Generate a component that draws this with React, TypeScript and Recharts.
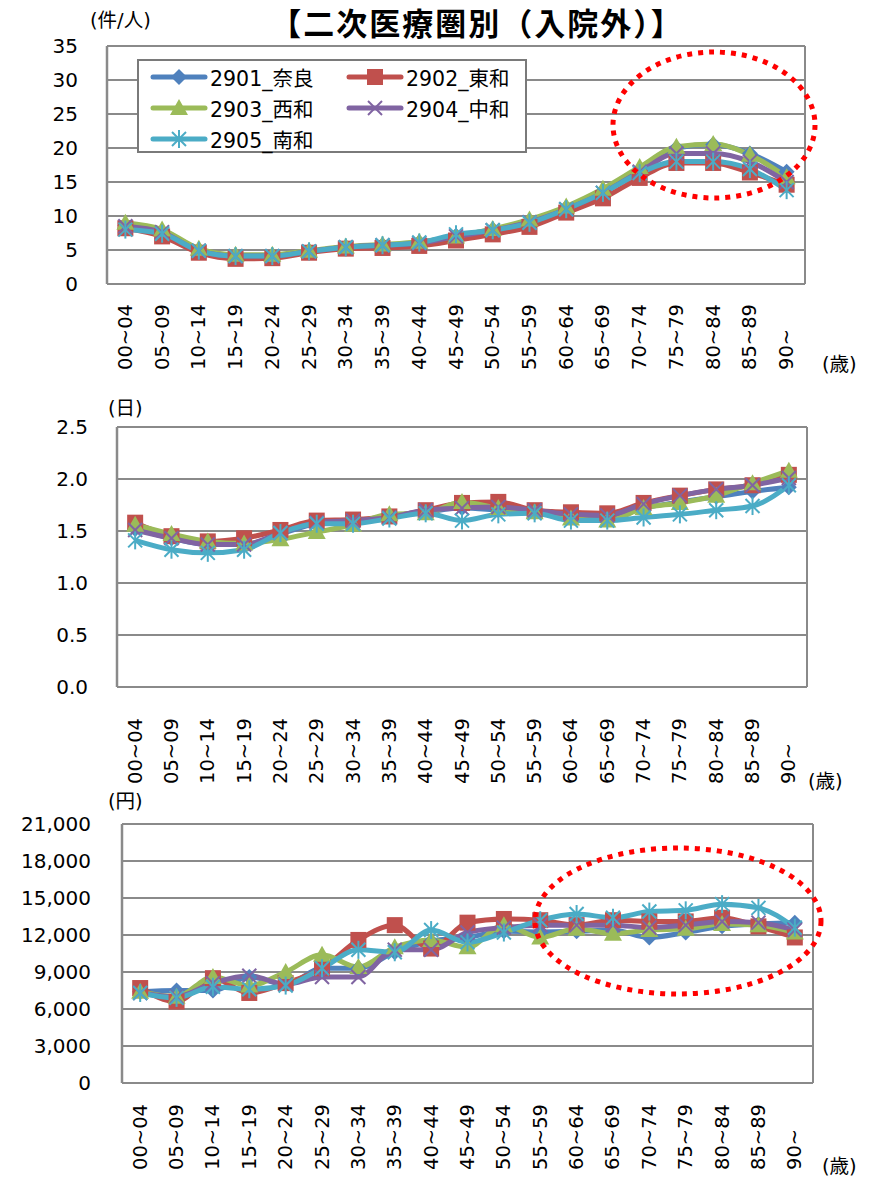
import { LineChart, Line, XAxis, YAxis, CartesianGrid } from 'recharts';

const FONT = '"DejaVu Sans", "Noto Sans CJK JP", sans-serif';

const ages = ['00~04', '05~09', '10~14', '15~19', '20~24', '25~29', '30~34', '35~39', '40~44', '45~49',
  '50~54', '55~59', '60~64', '65~69', '70~74', '75~79', '80~84', '85~89', '90~'];

// 件/人
const visits2901 = [8.6, 7.7, 5.0, 4.1, 4.2, 4.8, 5.4, 5.7, 6.1, 7.1, 8.0, 9.2, 11.2, 13.6, 16.7, 20.0, 20.5, 19.2, 16.5];
const visits2902 = [8.2, 7.0, 4.6, 3.7, 3.8, 4.6, 5.2, 5.3, 5.6, 6.4, 7.3, 8.4, 10.5, 12.6, 15.6, 17.8, 17.8, 16.4, 14.6];
const visits2903 = [9.0, 8.0, 5.2, 4.3, 4.3, 4.9, 5.5, 5.8, 6.2, 7.0, 8.1, 9.5, 11.4, 14.0, 17.2, 20.2, 20.6, 19.0, 15.7];
const visits2904 = [8.5, 7.6, 4.9, 4.1, 4.1, 4.8, 5.4, 5.7, 6.0, 7.0, 7.9, 9.1, 11.0, 13.4, 16.5, 19.2, 19.2, 18.0, 15.0];
const visits2905 = [8.0, 7.4, 4.9, 4.1, 4.1, 4.8, 5.4, 5.7, 6.1, 7.3, 7.9, 9.0, 11.0, 13.4, 16.3, 18.0, 18.0, 16.9, 13.8];

// 日
const days2901 = [1.52, 1.43, 1.37, 1.37, 1.47, 1.57, 1.59, 1.64, 1.68, 1.72, 1.70, 1.68, 1.64, 1.62, 1.72, 1.78, 1.83, 1.88, 1.92];
const days2902 = [1.58, 1.45, 1.40, 1.43, 1.51, 1.60, 1.61, 1.64, 1.70, 1.77, 1.78, 1.70, 1.68, 1.67, 1.77, 1.84, 1.90, 1.94, 2.04];
const days2903 = [1.56, 1.47, 1.40, 1.38, 1.42, 1.49, 1.56, 1.66, 1.67, 1.78, 1.72, 1.68, 1.62, 1.60, 1.72, 1.77, 1.84, 1.96, 2.08];
const days2904 = [1.51, 1.43, 1.37, 1.37, 1.48, 1.58, 1.60, 1.63, 1.70, 1.72, 1.73, 1.70, 1.66, 1.65, 1.76, 1.84, 1.90, 1.94, 2.01];
const days2905 = [1.41, 1.32, 1.29, 1.32, 1.48, 1.57, 1.57, 1.62, 1.67, 1.60, 1.66, 1.67, 1.60, 1.60, 1.63, 1.66, 1.70, 1.74, 1.94];

// 円
const cost2901 = [7400, 7500, 7500, 8600, 8000, 9300, 9300, 10600, 11500, 11800, 12300, 12250, 12300, 12400, 11800, 12200, 12700, 12900, 13000];
const cost2902 = [7700, 6600, 8500, 7300, 8100, 9300, 11600, 12800, 10900, 13000, 13300, 13200, 12800, 13200, 13100, 13100, 13400, 12700, 11800];
const cost2903 = [7400, 7000, 8600, 7900, 9000, 10400, 9400, 11000, 11600, 11000, 12800, 11800, 12500, 12100, 12400, 12500, 12900, 12800, 12200];
const cost2904 = [7300, 7000, 8100, 8700, 8000, 8600, 8600, 10800, 10800, 12200, 12600, 12800, 12800, 12800, 12600, 12800, 13100, 13000, 12400];
const cost2905 = [7300, 6900, 7800, 7600, 7900, 9300, 10800, 10600, 12400, 11400, 12200, 13200, 13700, 13400, 13900, 14000, 14500, 14200, 12600];

const visitTicks = [0, 5, 10, 15, 20, 25, 30, 35];
const dayTicks = [0, 0.5, 1.0, 1.5, 2.0, 2.5];
const costTicks = [0, 3000, 6000, 9000, 12000, 15000, 18000, 21000];

const series = [
  { key: 's2901', name: '2901_奈良', color: '#4F81BD', marker: 'diamond' },
  { key: 's2902', name: '2902_東和', color: '#C0504D', marker: 'square' },
  { key: 's2903', name: '2903_西和', color: '#9BBB59', marker: 'triangle' },
  { key: 's2904', name: '2904_中和', color: '#8064A2', marker: 'x' },
  { key: 's2905', name: '2905_南和', color: '#4BACC6', marker: 'star' },
];

const toRows = (arrs: number[][]) =>
  ages.map((age, i) => ({
    age,
    s2901: arrs[0][i],
    s2902: arrs[1][i],
    s2903: arrs[2][i],
    s2904: arrs[3][i],
    s2905: arrs[4][i],
  }));

const visitData = toRows([visits2901, visits2902, visits2903, visits2904, visits2905]);
const dayData = toRows([days2901, days2902, days2903, days2904, days2905]);
const costData = toRows([cost2901, cost2902, cost2903, cost2904, cost2905]);

function Marker({ kind, cx, cy, color }: { kind: string; cx: number; cy: number; color: string }) {
  if (cx == null || cy == null) return null;
  switch (kind) {
    case 'diamond':
      return <polygon points={`${cx},${cy - 8} ${cx + 8},${cy} ${cx},${cy + 8} ${cx - 8},${cy}`} fill={color} />;
    case 'square':
      return <rect x={cx - 8} y={cy - 8} width={16} height={16} fill={color} />;
    case 'triangle':
      return <polygon points={`${cx},${cy - 9} ${cx + 9},${cy + 7} ${cx - 9},${cy + 7}`} fill={color} />;
    case 'x':
      return (
        <g stroke={color} strokeWidth={2}>
          <line x1={cx - 7} y1={cy - 7} x2={cx + 7} y2={cy + 7} />
          <line x1={cx - 7} y1={cy + 7} x2={cx + 7} y2={cy - 7} />
        </g>
      );
    default:
      return (
        <g stroke={color} strokeWidth={2}>
          <line x1={cx - 7} y1={cy - 7} x2={cx + 7} y2={cy + 7} />
          <line x1={cx - 7} y1={cy + 7} x2={cx + 7} y2={cy - 7} />
          <line x1={cx} y1={cy - 9} x2={cx} y2={cy + 9} />
        </g>
      );
  }
}

interface PanelProps {
  top: number;
  height: number;
  plotTop: number;
  plotBottom: number;
  plotLeft: number;
  plotRight: number;
  data: any[];
  ticks: number[];
  fmt: (v: number) => string;
  labelGap: number;
  xLabelDrop: number;
}

function Panel({ top, height, plotTop, plotBottom, plotLeft, plotRight, data, ticks, fmt, labelGap, xLabelDrop }: PanelProps) {
  const axisH = 95;
  // half a category on each side, as Excel does
  const pad = (plotRight - plotLeft) / data.length / 2;
  const XTick = ({ x, y, payload }: any) => {
    const by = y + xLabelDrop;
    return (
      <text x={x} y={by} transform={`rotate(-90 ${x} ${by})`} textAnchor="start" dominantBaseline="central"
        fontSize={19.5} fontFamily={FONT} fill="#000">
        {payload.value}
      </text>
    );
  };
  return (
    <div style={{ position: 'absolute', left: 0, top }}>
      <LineChart
        width={878}
        height={height}
        data={data}
        margin={{ top: plotTop, right: 878 - plotRight, bottom: height - plotBottom - axisH, left: 0 }}
      >
        <CartesianGrid
          stroke="#8a8a8a"
          strokeWidth={2}
          verticalCoordinatesGenerator={({ offset }: any) => [offset.left, offset.left + offset.width]}
        />
        <XAxis dataKey="age" height={axisH} interval={0} tickLine={false} tickSize={0} tickMargin={0}
          padding={{ left: pad, right: pad }}
          axisLine={{ stroke: '#8a8a8a', strokeWidth: 2 }} tick={<XTick />} />
        <YAxis
          width={plotLeft}
          domain={[ticks[0], ticks[ticks.length - 1]]}
          ticks={ticks}
          interval={0}
          tickFormatter={fmt}
          tickLine={false}
          tickSize={0}
          tickMargin={labelGap}
          axisLine={{ stroke: '#8a8a8a', strokeWidth: 2.5 }}
          tick={{ fontSize: 20, fontFamily: FONT, fill: '#000' }}
        />
        {series.map((s) => (
          <Line
            key={s.key}
            dataKey={s.key}
            name={s.name}
            type="monotone"
            stroke={s.color}
            strokeWidth={5}
            isAnimationActive={false}
            dot={(p: any) => <Marker key={`${s.key}-${p.index}`} kind={s.marker} cx={p.cx} cy={p.cy} color={s.color} />}
            activeDot={false}
          />
        ))}
      </LineChart>
    </div>
  );
}

function LegendBox() {
  return (
    <div
      style={{
        position: 'absolute', left: 137, top: 59, width: 390, height: 94,
        border: '2px solid #7a7a7a', background: '#fff', boxSizing: 'border-box',
        display: 'grid', gridTemplateColumns: '196px 190px', gridAutoRows: '31px',
        paddingLeft: 11, paddingTop: 0, fontFamily: FONT, fontSize: 20.5,
      }}
    >
      {series.map((s) => (
        <div key={s.key} style={{ display: 'flex', alignItems: 'center', whiteSpace: 'nowrap' }}>
          <svg width={58} height={20}>
            <line x1={3} y1={10} x2={55} y2={10} stroke={s.color} strokeWidth={5} strokeLinecap="round" />
            <Marker kind={s.marker} cx={29} cy={10} color={s.color} />
          </svg>
          <span style={{ marginLeft: 2 }}>{s.name}</span>
        </div>
      ))}
    </div>
  );
}

const txt = (left: number, top: number, text: string, size = 19.5, extra: any = {}) => (
  <div style={{ position: 'absolute', left, top, fontSize: size, fontFamily: FONT, lineHeight: 1.2, whiteSpace: 'nowrap', ...extra }}>
    {text}
  </div>
);

export default function App() {
  return (
    <div style={{ position: 'absolute', left: 0, top: 0, width: 878, height: 1182, background: '#fff', overflow: 'hidden' }}>
      <Panel top={0} height={380} plotTop={46} plotBottom={284} plotLeft={107} plotRight={805}
        data={visitData} ticks={visitTicks} fmt={(v) => String(v)} labelGap={29} xLabelDrop={86} />
      <Panel top={380} height={410} plotTop={47} plotBottom={307} plotLeft={117} plotRight={807}
        data={dayData} ticks={dayTicks} fmt={(v) => v.toFixed(1)} labelGap={29} xLabelDrop={97} />
      <Panel top={790} height={392} plotTop={34} plotBottom={293} plotLeft={122} plotRight={813}
        data={costData} ticks={costTicks} fmt={(v) => v.toLocaleString('en-US')} labelGap={31} xLabelDrop={87} />

      <LegendBox />

      {txt(90, 9, '(件/人)')}
      {txt(108, 397, '(日)')}
      {txt(108, 790, '(円)')}
      {txt(822, 353, '(歳)')}
      {txt(808, 770, '(歳)')}
      {txt(822, 1155, '(歳)')}

      <svg width={878} height={1182} style={{ position: 'absolute', left: 0, top: 0, pointerEvents: 'none' }}>
        <text x={477} y={21} textAnchor="middle" dominantBaseline="central" fontSize={31} fontWeight="bold"
          letterSpacing={2} fontFamily='"Noto Sans CJK JP", sans-serif' fill="#000">
          【二次医療圏別（入院外）】
        </text>
        <ellipse cx={714} cy={125} rx={101} ry={73} fill="none" stroke="#FF0000" strokeWidth={5} strokeDasharray="5 6" />
        <ellipse cx={678} cy={921} rx={143} ry={73} fill="none" stroke="#FF0000" strokeWidth={5} strokeDasharray="5 6" />
      </svg>
    </div>
  );
}
